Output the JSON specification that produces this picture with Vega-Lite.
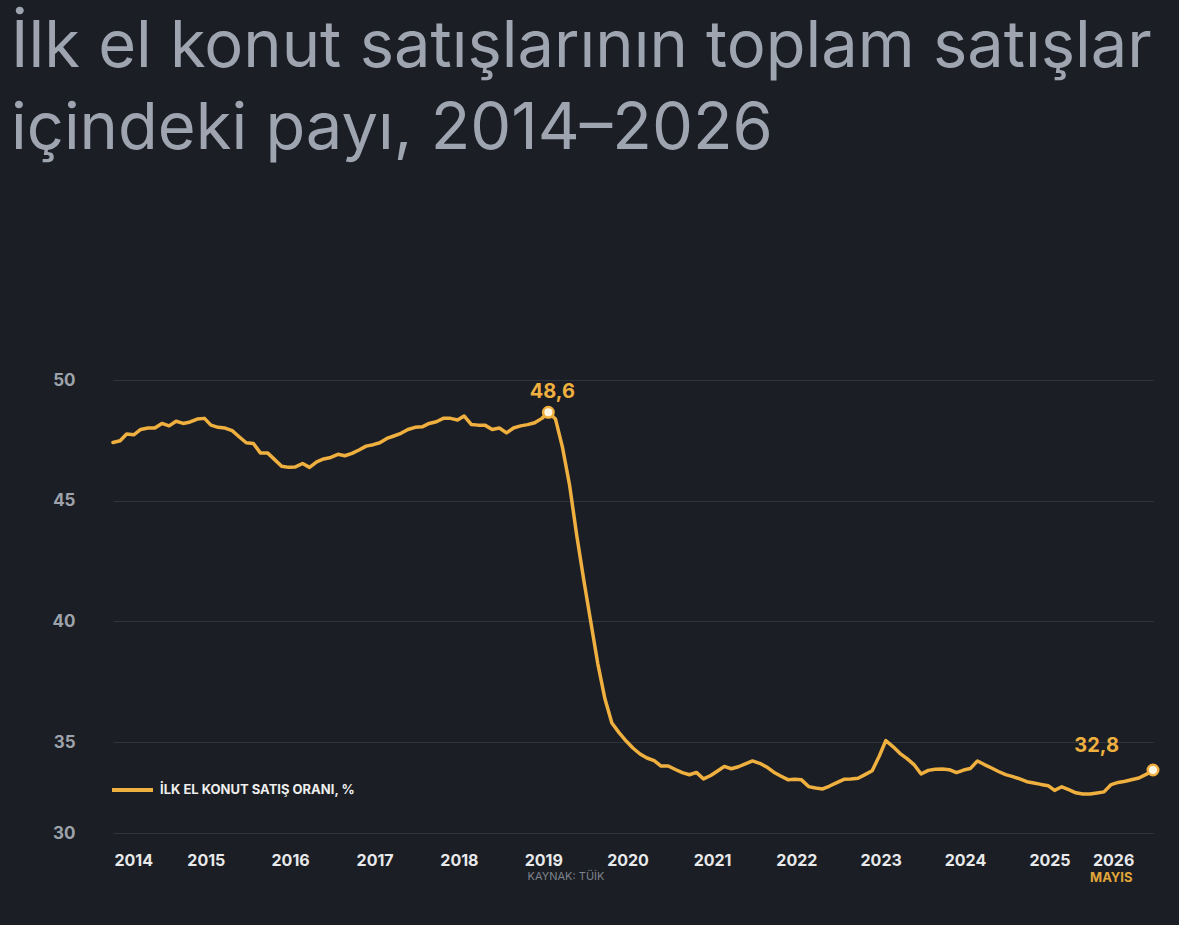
{
  "$schema": "https://vega.github.io/schema/vega-lite/v6.json",
  "width": 1040,
  "height": 453,
  "autosize": {"type": "none"},
  "padding": {"left": 113, "top": 380, "right": 26, "bottom": 92},
  "background": "#1b1e24",
  "title": {
    "text": ["İlk el konut satışlarının toplam satışlar", "içindeki payı, 2014–2026"],
    "anchor": "start",
    "frame": "group",
    "font": "Inter",
    "fontSize": 65,
    "fontWeight": 400,
    "color": "#9ea5b0",
    "lineHeight": 82,
    "dx": -102,
    "offset": 208
  },
  "config": {"view": {"stroke": null}, "font": "Inter"},
  "datasets": {
    "series": [
      {"date": "2014-01", "v": 47.41}, {"date": "2014-02", "v": 47.48}, {"date": "2014-03", "v": 47.76}, {"date": "2014-04", "v": 47.73},
      {"date": "2014-05", "v": 47.95}, {"date": "2014-06", "v": 48.01}, {"date": "2014-07", "v": 48.01}, {"date": "2014-08", "v": 48.2},
      {"date": "2014-09", "v": 48.1}, {"date": "2014-10", "v": 48.29}, {"date": "2014-11", "v": 48.2}, {"date": "2014-12", "v": 48.26},
      {"date": "2015-01", "v": 48.38}, {"date": "2015-02", "v": 48.41}, {"date": "2015-03", "v": 48.13}, {"date": "2015-04", "v": 48.04},
      {"date": "2015-05", "v": 48.01}, {"date": "2015-06", "v": 47.9}, {"date": "2015-07", "v": 47.65}, {"date": "2015-08", "v": 47.4},
      {"date": "2015-09", "v": 47.37}, {"date": "2015-10", "v": 46.98}, {"date": "2015-11", "v": 46.98}, {"date": "2015-12", "v": 46.71},
      {"date": "2016-01", "v": 46.43}, {"date": "2016-02", "v": 46.38}, {"date": "2016-03", "v": 46.4}, {"date": "2016-04", "v": 46.54},
      {"date": "2016-05", "v": 46.38}, {"date": "2016-06", "v": 46.61}, {"date": "2016-07", "v": 46.73}, {"date": "2016-08", "v": 46.79},
      {"date": "2016-09", "v": 46.92}, {"date": "2016-10", "v": 46.86}, {"date": "2016-11", "v": 46.96}, {"date": "2016-12", "v": 47.1},
      {"date": "2017-01", "v": 47.26}, {"date": "2017-02", "v": 47.32}, {"date": "2017-03", "v": 47.4}, {"date": "2017-04", "v": 47.58},
      {"date": "2017-05", "v": 47.68}, {"date": "2017-06", "v": 47.79}, {"date": "2017-07", "v": 47.95}, {"date": "2017-08", "v": 48.04},
      {"date": "2017-09", "v": 48.06}, {"date": "2017-10", "v": 48.2}, {"date": "2017-11", "v": 48.27}, {"date": "2017-12", "v": 48.41},
      {"date": "2018-01", "v": 48.41}, {"date": "2018-02", "v": 48.34}, {"date": "2018-03", "v": 48.51}, {"date": "2018-04", "v": 48.16},
      {"date": "2018-05", "v": 48.13}, {"date": "2018-06", "v": 48.12}, {"date": "2018-07", "v": 47.95}, {"date": "2018-08", "v": 48.01},
      {"date": "2018-09", "v": 47.81}, {"date": "2018-10", "v": 48.01}, {"date": "2018-11", "v": 48.1}, {"date": "2018-12", "v": 48.15},
      {"date": "2019-01", "v": 48.23}, {"date": "2019-02", "v": 48.41}, {"date": "2019-03", "v": 48.66}, {"date": "2019-04", "v": 48.38},
      {"date": "2019-05", "v": 47.22}, {"date": "2019-06", "v": 45.64}, {"date": "2019-07", "v": 43.62}, {"date": "2019-08", "v": 41.73},
      {"date": "2019-09", "v": 39.96}, {"date": "2019-10", "v": 38.25}, {"date": "2019-11", "v": 36.79}, {"date": "2019-12", "v": 35.79},
      {"date": "2020-01", "v": 35.39}, {"date": "2020-02", "v": 35.04}, {"date": "2020-03", "v": 34.67}, {"date": "2020-04", "v": 34.34},
      {"date": "2020-05", "v": 34.12}, {"date": "2020-06", "v": 33.98}, {"date": "2020-07", "v": 33.68}, {"date": "2020-08", "v": 33.68},
      {"date": "2020-09", "v": 33.49}, {"date": "2020-10", "v": 33.32}, {"date": "2020-11", "v": 33.2}, {"date": "2020-12", "v": 33.33},
      {"date": "2021-01", "v": 32.97}, {"date": "2021-02", "v": 33.16}, {"date": "2021-03", "v": 33.39}, {"date": "2021-04", "v": 33.66},
      {"date": "2021-05", "v": 33.53}, {"date": "2021-06", "v": 33.64}, {"date": "2021-07", "v": 33.8}, {"date": "2021-08", "v": 33.96},
      {"date": "2021-09", "v": 33.83}, {"date": "2021-10", "v": 33.63}, {"date": "2021-11", "v": 33.34}, {"date": "2021-12", "v": 33.13},
      {"date": "2022-01", "v": 32.93}, {"date": "2022-02", "v": 32.95}, {"date": "2022-03", "v": 32.92}, {"date": "2022-04", "v": 32.55},
      {"date": "2022-05", "v": 32.47}, {"date": "2022-06", "v": 32.42}, {"date": "2022-07", "v": 32.58}, {"date": "2022-08", "v": 32.77},
      {"date": "2022-09", "v": 32.95}, {"date": "2022-10", "v": 32.97}, {"date": "2022-11", "v": 33.01}, {"date": "2022-12", "v": 33.21},
      {"date": "2023-01", "v": 33.42}, {"date": "2023-02", "v": 34.23}, {"date": "2023-03", "v": 35.06}, {"date": "2023-04", "v": 34.75},
      {"date": "2023-05", "v": 34.38}, {"date": "2023-06", "v": 34.09}, {"date": "2023-07", "v": 33.76}, {"date": "2023-08", "v": 33.24},
      {"date": "2023-09", "v": 33.44}, {"date": "2023-10", "v": 33.5}, {"date": "2023-11", "v": 33.51}, {"date": "2023-12", "v": 33.48},
      {"date": "2024-01", "v": 33.32}, {"date": "2024-02", "v": 33.46}, {"date": "2024-03", "v": 33.54}, {"date": "2024-04", "v": 33.96},
      {"date": "2024-05", "v": 33.76}, {"date": "2024-06", "v": 33.57}, {"date": "2024-07", "v": 33.38}, {"date": "2024-08", "v": 33.21},
      {"date": "2024-09", "v": 33.1}, {"date": "2024-10", "v": 32.97}, {"date": "2024-11", "v": 32.82}, {"date": "2024-12", "v": 32.75},
      {"date": "2025-01", "v": 32.67}, {"date": "2025-02", "v": 32.6}, {"date": "2025-03", "v": 32.34}, {"date": "2025-04", "v": 32.54},
      {"date": "2025-05", "v": 32.38}, {"date": "2025-06", "v": 32.21}, {"date": "2025-07", "v": 32.14}, {"date": "2025-08", "v": 32.14},
      {"date": "2025-09", "v": 32.2}, {"date": "2025-10", "v": 32.26}, {"date": "2025-11", "v": 32.66}, {"date": "2025-12", "v": 32.78},
      {"date": "2026-01", "v": 32.84}, {"date": "2026-02", "v": 32.94}, {"date": "2026-03", "v": 33.02}, {"date": "2026-04", "v": 33.22},
      {"date": "2026-05", "v": 33.46}
    ],
    "marked": [
      {"date": "2019-03", "v": 48.66, "label": "48,6"},
      {"date": "2026-05", "v": 33.46, "label": "32,8"}
    ]
  },
  "encoding": {
    "x": {
      "field": "date",
      "type": "temporal",
      "scale": {"type": "utc", "domain": ["2014-01", "2026-05"], "nice": false},
      "axis": {
        "tickCount": {"interval": "year", "step": 1},
        "labelExpr": "utcFormat(datum.value, '%Y')",
        "domain": false,
        "ticks": false,
        "grid": false,
        "labelFont": "Inter",
        "labelFontSize": 16,
        "labelFontWeight": "bold",
        "labelColor": "#e8e9eb",
        "labelPadding": 19,
        "labelOffset": {"condition": {"test": "utcFormat(datum.value, '%Y') == '2014'", "value": 1}, "value": 8.5},
        "labelFlush": 30,
        "labelOverlap": false,
        "title": "KAYNAK: TÜİK",
        "titleFont": "Inter",
        "titleFontSize": 11,
        "titleFontWeight": "normal",
        "titleColor": "#7d828b",
        "titleX": 452.5,
        "titleY": 43.5,
        "titleAlign": "center",
        "titleBaseline": "middle"
      }
    },
    "y": {
      "field": "v",
      "type": "quantitative",
      "scale": {"domain": [30, 35, 50], "range": [453, 362, 0], "zero": false, "nice": false},
      "axis": {
        "values": [30, 35, 40, 45, 50],
        "domain": false,
        "ticks": false,
        "grid": true,
        "gridColor": "#30343c",
        "gridWidth": 1,
        "labelFont": "Inter",
        "labelFontSize": 17,
        "labelFontWeight": "bold",
        "labelColor": "#9ea3ab",
        "labelPadding": 38,
        "title": null
      }
    }
  },
  "layer": [
    {
      "data": {"name": "series"},
      "mark": {"type": "line", "strokeWidth": 3.5, "strokeJoin": "round", "strokeCap": "round"},
      "encoding": {
        "color": {
          "datum": "İLK EL KONUT SATIŞ ORANI, %",
          "scale": {"range": ["#efb040"]},
          "legend": {
            "orient": "none",
            "legendX": -3,
            "legendY": 387.5,
            "title": null,
            "padding": 0,
            "symbolType": "stroke",
            "symbolSize": 1681,
            "symbolStrokeWidth": 4,
            "labelOffset": 5,
            "labelFont": "Inter",
            "labelFontSize": 13,
            "labelFontWeight": "bold",
            "labelColor": "#eeeeee",
            "labelLimit": 400
          }
        }
      }
    },
    {
      "data": {"name": "marked"},
      "mark": {"type": "point", "filled": true, "fill": "#fff6e2", "stroke": "#efb040", "strokeWidth": 2.5, "size": 110, "opacity": 1}
    },
    {
      "data": {"name": "marked"},
      "transform": [{"filter": "datum.label == '48,6'"}],
      "mark": {"type": "text", "align": "center", "baseline": "alphabetic", "dx": 4, "dy": -14, "font": "Inter", "fontSize": 20, "fontWeight": "bold", "color": "#efb040"},
      "encoding": {"text": {"field": "label"}}
    },
    {
      "data": {"name": "marked"},
      "transform": [{"filter": "datum.label == '32,8'"}],
      "mark": {"type": "text", "align": "right", "baseline": "alphabetic", "dx": -34, "dy": -17.6, "font": "Inter", "fontSize": 20, "fontWeight": "bold", "color": "#efb040"},
      "encoding": {"text": {"field": "label"}}
    },
    {
      "data": {"values": [{"date": "2026-01", "v": 27.55, "label": "MAYIS"}]},
      "mark": {"type": "text", "align": "center", "baseline": "middle", "dx": -14, "font": "Inter", "fontSize": 13, "fontWeight": "bold", "color": "#e0a63a"},
      "encoding": {"text": {"field": "label"}}
    }
  ]
}
